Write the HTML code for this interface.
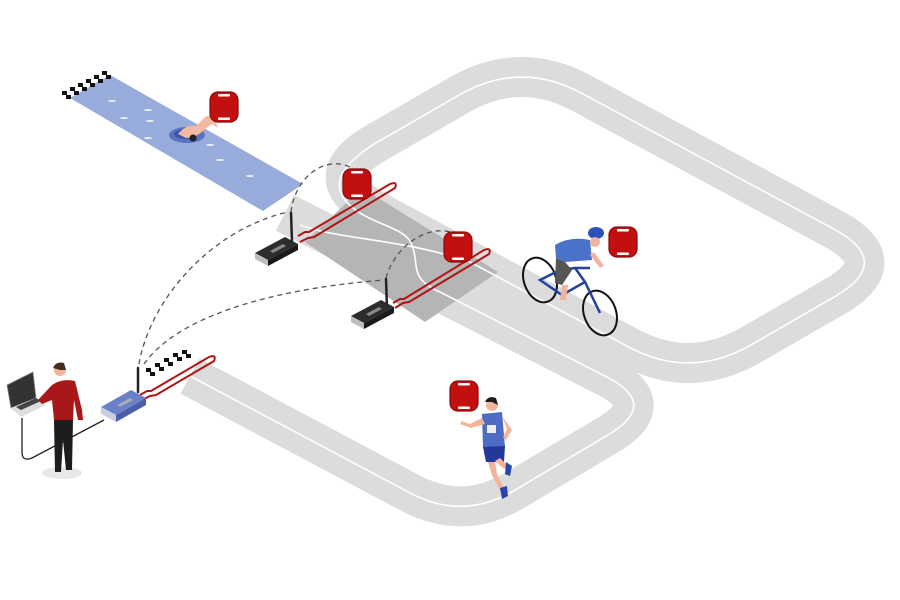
<!DOCTYPE html>
<html><head><meta charset="utf-8"><style>html,body{margin:0;padding:0;background:#fff}svg{display:block}</style></head>
<body>
<svg width="900" height="600" viewBox="0 0 900 600" xmlns="http://www.w3.org/2000/svg">
<defs>
<g id="tp">
<rect x="-14" y="-15" width="28" height="30" rx="8" fill="#c21011" stroke="#8a0a0a" stroke-width="1.2"/>
<rect x="-6" y="-13" width="12" height="2.5" rx="1" fill="#fff"/>
<rect x="-6" y="10.5" width="12" height="2.5" rx="1" fill="#fff"/>
</g>
</defs>
<!-- tracks -->
<g fill="none" stroke="#dcdcdc" stroke-width="40" stroke-linejoin="round">
<path d="M 375.7,143.1 L 459.3,94.9 Q 520,60 581.6,93.2 L 833.4,228.8 Q 895,262 834.3,296.9 L 750.7,345.1 Q 690,380 628.4,346.8 L 376.6,211.2 Q 315,178 375.7,143.1 Z"/>
<path d="M 190,376 L 410,492.9 Q 463,521 514.6,490.3 L 608.4,434.7 Q 660,404 606.5,376.8 L 285,212.8"/>
</g>
<!-- transition dark zone -->
<polygon points="305,242 362,188 498,272 425,322" fill="#b5b5b5"/>
<!-- white lines -->
<g fill="none" stroke="#fff" stroke-width="1.6">
<path d="M 375.7,143.1 L 459.3,94.9 Q 520,60 581.6,93.2 L 833.4,228.8 Q 895,262 834.3,296.9 L 750.7,345.1 Q 690,380 628.4,346.8 L 470,262"/>
<path d="M 190,376 L 410,492.9 Q 463,521 514.6,490.3 L 608.4,434.7 Q 660,404 606.5,376.8 L 440,292"/>
<path d="M 375.7,143.1 Q 325,175 345,200 C 365,225 405,225 412,245 C 420,265 408,278 440,292"/>
<path d="M 300,225 C 340,240 400,238 470,262"/>
</g>
<!-- swim lane -->
<polygon points="110,75 303,184 263,211 70,98" fill="#98acdc"/>
<g fill="#fff" opacity="0.8">
<ellipse cx="112" cy="101" rx="4" ry="1"/><ellipse cx="148" cy="110" rx="4" ry="1"/><ellipse cx="124" cy="118" rx="4" ry="1"/>
<ellipse cx="150" cy="121" rx="4" ry="1"/><ellipse cx="148" cy="138" rx="4" ry="1"/><ellipse cx="210" cy="145" rx="4" ry="1"/>
<ellipse cx="220" cy="160" rx="4" ry="1"/><ellipse cx="250" cy="176" rx="4" ry="1"/>
</g>
<!-- checkers swim -->
<g fill="#111">
<rect x="62" y="91" width="5" height="4"/><rect x="70" y="87" width="5" height="4"/><rect x="78" y="83" width="5" height="4"/><rect x="86" y="79" width="5" height="4"/><rect x="94" y="75" width="5" height="4"/><rect x="102" y="71" width="5" height="4"/>
<rect x="66" y="95" width="5" height="4"/><rect x="74" y="91" width="5" height="4"/><rect x="82" y="87" width="5" height="4"/><rect x="90" y="83" width="5" height="4"/><rect x="98" y="79" width="5" height="4"/><rect x="106" y="75" width="5" height="4"/>
</g>
<!-- swimmer -->
<ellipse cx="187" cy="135" rx="18" ry="8" fill="#5a72c0"/>
<ellipse cx="186" cy="134" rx="12" ry="5" fill="#3c55a8"/>
<path d="M178,134 Q186,124 196,126 L205,117 Q210,114 214,118 L218,128 L212,124 L204,130 Q196,138 186,138 Z" fill="#f4b9a0"/>
<circle cx="193" cy="138" r="3.5" fill="#222"/>
<!-- red loops -->
<g fill="none" stroke="#b11414" stroke-width="2">
<path d="M 298,236 L 305,232 L 309,232 L 390,184 Q 398,181 395,188 L 314,237 L 308,238 L 300,242"/>
<path d="M 393,303 L 400,299 L 404,299 L 484,250 Q 492,247 489,254 L 409,302 L 403,303 L 395,308"/>
<path d="M 140,395 L 147,391 L 151,391 L 209,357 Q 217,354 214,361 L 156,395 L 150,396 L 142,400"/>
</g>
<!-- finish checkers -->
<g fill="#111">
<rect x="146" y="368" width="5" height="4"/><rect x="155" y="363" width="5" height="4"/><rect x="164" y="358" width="5" height="4"/><rect x="173" y="353" width="5" height="4"/><rect x="182" y="350" width="5" height="4"/>
<rect x="150" y="372" width="5" height="4"/><rect x="159" y="367" width="5" height="4"/><rect x="168" y="362" width="5" height="4"/><rect x="177" y="357" width="5" height="4"/><rect x="186" y="354" width="5" height="4"/>
</g>
<!-- dashed links -->
<g fill="none" stroke="#555" stroke-width="1.3" stroke-dasharray="5,4">
<path d="M 291,212 C 295,175 330,150 358,172"/>
<path d="M 386,278 C 395,245 430,222 456,234"/>
<path d="M 139,364 C 150,300 210,230 288,212"/>
<path d="M 144,364 C 175,320 260,290 384,280"/>
</g>
<!-- antennas -->
<g stroke="#222" stroke-width="2.5" stroke-linecap="round">
<line x1="292" y1="242" x2="291" y2="213"/>
<line x1="387" y1="308" x2="386" y2="279"/>
<line x1="138" y1="392" x2="138" y2="368"/>
</g>
<!-- receivers -->
<g>
<polygon points="255,253 285,237 298,244 268,260" fill="#2c2c2c"/>
<polygon points="255,253 268,260 268,266 255,259" fill="#bdbdbd"/>
<polygon points="268,260 298,244 298,250 268,266" fill="#1a1a1a"/>
<polygon points="270,251 283,244 286,246 273,253" fill="#888"/>
<polygon points="351,316 381,300 394,307 364,323" fill="#2c2c2c"/>
<polygon points="351,316 364,323 364,329 351,322" fill="#bdbdbd"/>
<polygon points="364,323 394,307 394,313 364,329" fill="#1a1a1a"/>
<polygon points="366,314 379,307 382,309 369,316" fill="#888"/>
<polygon points="101,407 131,390 146,398 116,415" fill="#6a80c8"/>
<polygon points="101,407 116,415 116,422 101,414" fill="#c8cde0"/>
<polygon points="116,415 146,398 146,405 116,422" fill="#4a5fa8"/>
<polygon points="117,405 130,398 133,400 120,407" fill="#aab"/>
</g>
<!-- person + laptop -->
<ellipse cx="62" cy="473" rx="20" ry="6" fill="#e8e8e8"/>
<path d="M22,418 L22,452 Q22,462 32,458 L104,420" fill="none" stroke="#222" stroke-width="1.3"/>
<polygon points="7,385 33,372 36,398 11,408" fill="#333" stroke="#888" stroke-width="0.8"/>
<polygon points="11,408 36,398 46,405 21,417" fill="#ddd"/>
<polygon points="16,407 36,398 41,401 21,410" fill="#444"/>
<path d="M52,385 Q62,378 75,381 L82,410 L83,420 L78,420 L74,400 L73,420 L54,420 L52,400 L42,404 L38,400 Z" fill="#a81818"/>
<circle cx="60" cy="370" r="6" fill="#f2b49b"/>
<path d="M53,368 Q56,361 64,363 L66,370 L60,370 Z" fill="#4a2a1a"/>
<polygon points="54,420 73,420 72,470 66,470 63,440 61,472 55,472" fill="#1d1d1d"/>
<!-- cyclist -->
<g fill="none" stroke="#111" stroke-width="2">
<ellipse cx="540" cy="280" rx="16" ry="23" transform="rotate(-20 540 280)"/>
<ellipse cx="600" cy="313" rx="16" ry="23" transform="rotate(-20 600 313)"/>
</g>
<g fill="none" stroke="#2440a0" stroke-width="2.5">
<path d="M540,280 L562,295 L585,282 L575,268 L560,270 Z M585,282 L600,313 M575,268 L590,268"/>
</g>
<path d="M555,245 Q570,236 590,240 L592,260 L565,262 L556,258 Z" fill="#4a72c8"/>
<path d="M556,258 L565,262 L572,270 L562,285 L555,283 Z" fill="#555"/>
<path d="M562,285 L560,300 L566,300 L568,285 Z" fill="#f2b49b"/>
<path d="M590,255 L600,268 L604,266 L594,252 Z" fill="#f2b49b"/>
<ellipse cx="596" cy="233" rx="8" ry="6" fill="#2b52b8"/>
<circle cx="595" cy="242" r="5" fill="#f2b49b"/>
<!-- runner -->
<path d="M482,414 L502,412 L505,447 L483,448 Z" fill="#4f6cc4"/>
<rect x="487" y="425" width="9" height="8" fill="#eee"/>
<path d="M483,447 L505,446 L504,462 L486,462 Z" fill="#22389a"/>
<path d="M482,418 L470,424 L462,421 L460,424 L471,428 L485,424 Z" fill="#f2b49b"/>
<path d="M502,416 L512,430 L506,440 L503,437 L507,429 Z" fill="#f2b49b"/>
<path d="M495,461 L504,469 L508,466 L500,458 Z M488,462 L492,475 L500,490 L504,488 L497,474 L495,462 Z" fill="#f2b49b"/>
<path d="M506,462 L512,466 L510,476 L505,474 Z M500,488 L507,486 L508,496 L502,499 Z" fill="#2a45a8"/>
<circle cx="492" cy="405" r="6" fill="#f2b49b"/>
<path d="M485,402 Q488,395 496,398 L498,405 L492,402 Z" fill="#1d1d1d"/>
<!-- transponders -->
<use href="#tp" x="224" y="107"/>
<use href="#tp" x="357" y="184"/>
<use href="#tp" x="458" y="247"/>
<use href="#tp" x="623" y="242"/>
<use href="#tp" x="464" y="396"/>
</svg>
</body></html>
